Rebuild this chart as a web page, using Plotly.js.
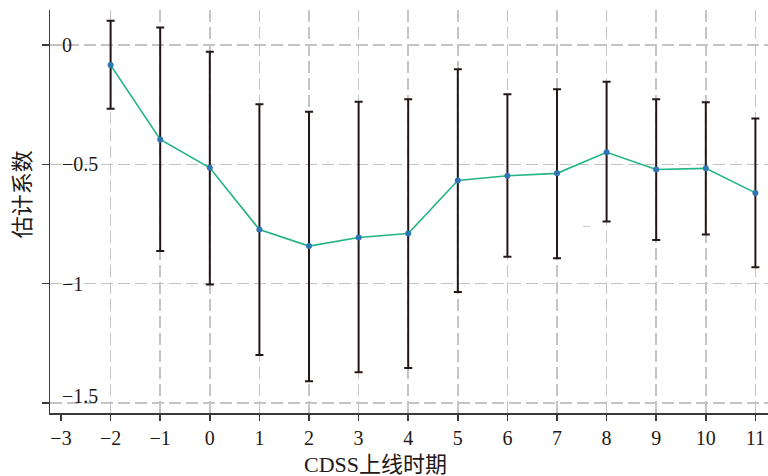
<!DOCTYPE html>
<html>
<head>
<meta charset="utf-8">
<script src="https://cdn.plot.ly/plotly-3.0.1.min.js"></script>
<style>html,body{margin:0;padding:0;background:#fff;}#chart{width:768px;height:476px;}</style>
</head>
<body>
<div id="chart"></div>
<script>
// Periods relative to CDSS launch
const periods = [-2, -1, 0, 1, 2, 3, 4, 5, 6, 7, 8, 9, 10, 11];
// Estimated coefficients
const coef  = [-0.084, -0.396, -0.515, -0.774, -0.843, -0.807, -0.790, -0.568, -0.548, -0.538, -0.450, -0.522, -0.517, -0.620];
// Confidence interval bounds
const upper = [0.102, 0.074, -0.028, -0.248, -0.280, -0.238, -0.227, -0.101, -0.206, -0.185, -0.154, -0.227, -0.240, -0.308];
const lower = [-0.267, -0.864, -1.004, -1.300, -1.410, -1.372, -1.354, -1.036, -0.888, -0.894, -0.740, -0.818, -0.794, -0.932];
// Tick values
const xTicks = [-3, -2, -1, 0, 1, 2, 3, 4, 5, 6, 7, 8, 9, 10, 11];
const xGrid = [-2, -1, 0, 1, 2, 3, 4, 5, 6, 7, 8, 9, 10, 11];
const yTicks = [0, -0.5, -1, -1.5];
const yTickText = ['0', '−0.5', '−1', '−1.5'];
const xTitle = 'CDSS上线时期';
const yTitle = '估计系数';

const errPlus = upper.map((u, i) => u - coef[i]);
const errMinus = coef.map((c, i) => c - lower[i]);

const serif = 'Liberation Serif';
const cjk = 'Liberation Serif, Noto Sans CJK SC';
const xRange = [-3.222, 11.254];
const yRange = [-1.543, 0.147];
const gridCol = '#c4c4c4';
const ink = '#231815';

const traces = [
  {
    x: periods, y: coef, type: 'scatter', mode: 'lines+markers',
    line: {color: '#22b386', width: 1.6},
    marker: {color: '#2f74b5', size: 6},
    error_y: {type: 'data', symmetric: false, array: errPlus, arrayminus: errMinus,
              color: ink, thickness: 2, width: 4},
    showlegend: false, hoverinfo: 'skip'
  },
  { x: [], y: [], xaxis: 'x2', type: 'scatter', mode: 'markers', showlegend: false, hoverinfo: 'skip' }
];

const yLabelAnns = yTicks.map((v, i) => ({
  text: yTickText[i], xref: 'paper', yref: 'y', x: 0, y: v,
  xanchor: 'left', yanchor: 'middle', xshift: 10, yshift: (i === yTicks.length - 1) ? 7 : 0,
  showarrow: false, font: {family: serif, size: 20, color: ink}
}));

const layout = {
  width: 768, height: 476,
  margin: {l: 50, r: 0, t: 10, b: 63},
  paper_bgcolor: '#ffffff', plot_bgcolor: '#ffffff',
  font: {family: serif, size: 20, color: ink},
  xaxis: {
    range: xRange, tickvals: xTicks, ticktext: xTicks.map(v => v < 0 ? '−' + Math.abs(v) : String(v)),
    showgrid: false, zeroline: false,
    showline: true, linecolor: '#3a3a3a', linewidth: 1.5,
    ticks: 'outside', ticklen: 6, tickcolor: '#3a3a3a', tickwidth: 1.5,
    tickfont: {family: serif, size: 20, color: ink}
  },
  xaxis2: {
    range: xRange, overlaying: 'x', tickvals: xGrid, showticklabels: false, ticks: '',
    showgrid: true, gridcolor: gridCol, gridwidth: 1.5, griddash: '12px,5px',
    zeroline: false, showline: false
  },
  yaxis: {
    range: yRange, tickvals: yTicks, showticklabels: false,
    showgrid: true, gridcolor: gridCol, gridwidth: 1.5, griddash: '12px,5px',
    zeroline: false,
    showline: true, linecolor: '#3a3a3a', linewidth: 1.5,
    ticks: 'outside', ticklen: 7, tickcolor: '#3a3a3a', tickwidth: 1.5
  },
  annotations: yLabelAnns.concat([
    {text: xTitle, xref: 'paper', yref: 'paper', x: 0.454, y: -0.129,
     xanchor: 'center', yanchor: 'middle', showarrow: false,
     font: {family: cjk, size: 22, color: ink}},
    {text: yTitle, xref: 'paper', yref: 'paper', x: -0.039, y: 0.543,
     xanchor: 'center', yanchor: 'middle', showarrow: false, textangle: -90,
     font: {family: cjk, size: 22, color: ink}},
    {text: '–', xref: 'x', yref: 'y', x: 7.6, y: -0.755, showarrow: false,
     font: {family: serif, size: 14, color: '#bbbbbb'}}
  ])
};

Plotly.newPlot('chart', traces, layout, {displayModeBar: false, staticPlot: true});
</script>
</body>
</html>
